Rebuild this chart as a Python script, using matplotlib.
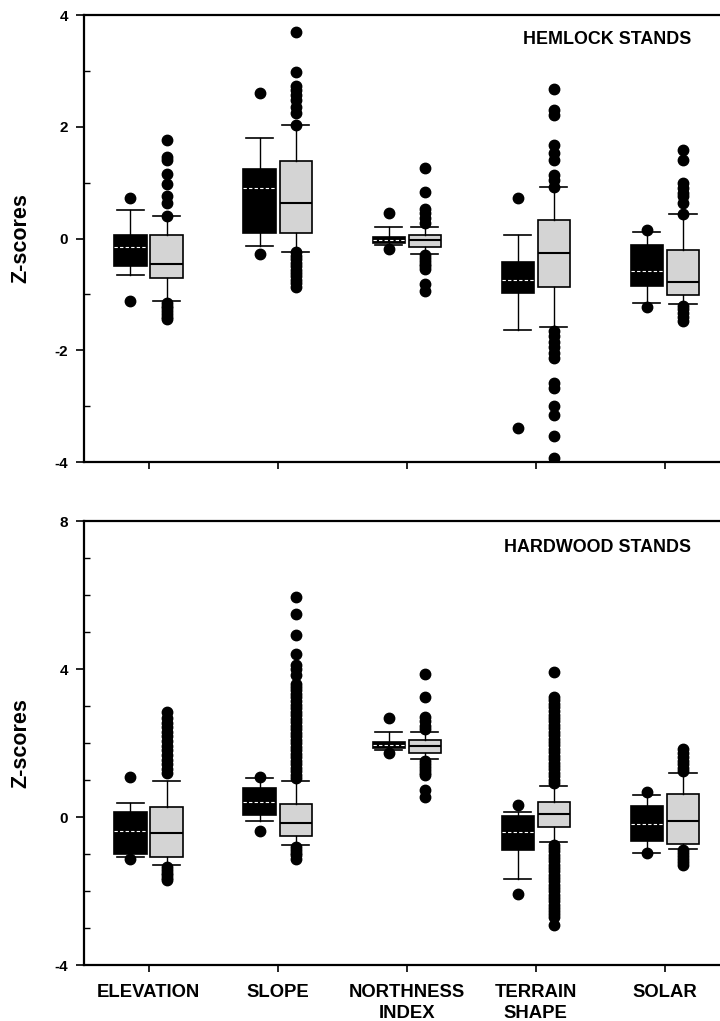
import matplotlib
matplotlib.use("Agg")
import matplotlib.pyplot as plt
from matplotlib.ticker import MultipleLocator

plt.rcParams['font.family'] = ['Liberation Sans', 'DejaVu Sans']
plt.rcParams['font.weight'] = 'bold'
plt.rcParams['axes.unicode_minus'] = False

categories = ["ELEVATION", "SLOPE", "NORTHNESS\nINDEX", "TERRAIN\nSHAPE", "SOLAR"]

# hemlock stands - dark boxes
hem_dark_q1 = [-0.49, 0.10, -0.08, -0.97, -0.85]
hem_dark_med = [-0.15, 0.90, -0.02, -0.74, -0.58]
hem_dark_q3 = [0.07, 1.25, 0.03, -0.42, -0.11]
hem_dark_whislo = [-0.66, -0.14, -0.12, -1.64, -1.16]
hem_dark_whishi = [0.51, 1.80, 0.20, 0.06, 0.12]
hem_dark_fliers = [[0.73, -1.11], [2.60, -0.27], [0.46, -0.18], [0.72, -3.40], [0.15, -1.22]]

# hemlock stands - light boxes
hem_light_q1 = [-0.71, 0.10, -0.15, -0.86, -1.02]
hem_light_med = [-0.45, 0.64, -0.03, -0.26, -0.78]
hem_light_q3 = [0.07, 1.39, 0.07, 0.33, -0.20]
hem_light_whislo = [-1.12, -0.24, -0.27, -1.58, -1.18]
hem_light_whishi = [0.40, 2.04, 0.21, 0.92, 0.43]
hem_light_fliers = [
    [1.77, 1.46, 1.41, 1.16, 0.98, 0.76, 0.63, 0.41,
     -1.15, -1.20, -1.25, -1.30, -1.35, -1.40, -1.44],
    [3.69, 2.98, 2.73, 2.66, 2.57, 2.48, 2.36, 2.24, 2.04,
     -0.25, -0.31, -0.37, -0.43, -0.50, -0.56, -0.62, -0.68, -0.74, -0.80, -0.87],
    [1.26, 0.84, 0.52, 0.46, 0.37, 0.28,
     -0.30, -0.35, -0.40, -0.45, -0.50, -0.55, -0.82, -0.94],
    [2.68, 2.30, 2.21, 1.68, 1.53, 1.41, 1.14, 1.05, 0.93,
     -1.65, -1.75, -1.85, -1.95, -2.05, -2.13, -2.58, -2.67, -2.99, -3.16, -3.53, -3.92],
    [1.59, 1.41, 0.99, 0.91, 0.82, 0.76, 0.64, 0.43,
     -1.20, -1.27, -1.34, -1.41, -1.48],
]

# hardwood stands - dark boxes
hw_dark_q1 = [-1.00, 0.05, 1.86, -0.90, -0.65]
hw_dark_med = [-0.38, 0.41, 1.95, -0.41, -0.19]
hw_dark_q3 = [0.14, 0.79, 2.04, 0.04, 0.30]
hw_dark_whislo = [-1.07, -0.10, 1.80, -1.67, -0.97]
hw_dark_whishi = [0.38, 1.05, 2.30, 0.13, 0.59]
hw_dark_fliers = [[1.09, -1.14], [1.07, -0.37], [2.68, 1.72], [0.33, -2.09], [0.68, -0.97]]

# hardwood stands - light boxes
hw_light_q1 = [-1.08, -0.50, 1.74, -0.27, -0.73]
hw_light_med = [-0.43, -0.16, 1.92, 0.07, -0.10]
hw_light_q3 = [0.26, 0.35, 2.07, 0.41, 0.62]
hw_light_whislo = [-1.31, -0.75, 1.57, -0.68, -0.86]
hw_light_whishi = [0.98, 0.98, 2.31, 0.85, 1.19]
hw_light_fliers = [
    [1.18, 1.30, 1.42, 1.55, 1.67, 1.80, 1.93, 2.05, 2.18, 2.30, 2.43, 2.55, 2.68, 2.83,
     -1.34, -1.42, -1.50, -1.58, -1.65, -1.71],
    [1.05, 1.14, 1.24, 1.33, 1.42, 1.52, 1.61, 1.71, 1.80, 1.90, 2.00, 2.09, 2.19, 2.28,
     2.38, 2.47, 2.57, 2.66, 2.76, 2.85, 2.95, 3.04, 3.14, 3.23, 3.33, 3.42, 3.52, 3.60,
     3.85, 4.00, 4.10, 4.41, 4.92, 5.48, 5.94,
     -0.80, -0.88, -0.96, -1.04, -1.13],
    [3.86, 3.25, 2.70, 2.60, 2.47, 2.38,
     1.52, 1.44, 1.36, 1.28, 1.20, 1.13, 0.73, 0.55],
    [0.92, 1.01, 1.10, 1.20, 1.29, 1.38, 1.47, 1.57, 1.66, 1.75, 1.85, 1.94, 2.03, 2.12,
     2.22, 2.31, 2.40, 2.50, 2.59, 2.68, 2.77, 2.87, 2.96, 3.05, 3.15, 3.25, 3.92,
     -0.75, -0.84, -0.93, -1.02, -1.11, -1.20, -1.29, -1.38, -1.47, -1.56, -1.65, -1.74,
     -1.83, -1.92, -2.01, -2.10, -2.19, -2.28, -2.37, -2.46, -2.55, -2.63, -2.70, -2.91],
    [1.24, 1.33, 1.42, 1.52, 1.62, 1.72, 1.83,
     -0.90, -0.98, -1.06, -1.14, -1.22, -1.29],
]


def make_stats(q1, med, q3, lo, hi, fliers):
    return [dict(q1=q1[i], med=med[i], q3=q3[i], whislo=lo[i], whishi=hi[i],
                 fliers=fliers[i]) for i in range(len(q1))]


def draw_panel(ax, dark, light, yticks, ylim):
    pos = list(range(1, len(categories) + 1))
    flier = dict(marker='o', markerfacecolor='black', markeredgecolor='black',
                 markersize=7.5, linestyle='none')
    ax.bxp(dark, positions=[p - 0.14 for p in pos], widths=0.25, capwidths=0.21,
           patch_artist=True, showfliers=True,
           boxprops=dict(facecolor='black', edgecolor='black', linewidth=1.2),
           medianprops=dict(color='white', linewidth=0.8, linestyle=(0, (3, 2))),
           whiskerprops=dict(color='black', linewidth=1.0),
           capprops=dict(color='black', linewidth=1.2),
           flierprops=flier, zorder=3)
    ax.bxp(light, positions=[p + 0.14 for p in pos], widths=0.25, capwidths=0.21,
           patch_artist=True, showfliers=True,
           boxprops=dict(facecolor='#d4d4d4', edgecolor='black', linewidth=1.2),
           medianprops=dict(color='black', linewidth=1.5),
           whiskerprops=dict(color='black', linewidth=1.0),
           capprops=dict(color='black', linewidth=1.2),
           flierprops=flier, zorder=3)
    ax.set_xlim(0.5, 5.5)
    ax.set_xticks(pos)
    ax.set_ylim(*ylim)
    ax.set_yticks(yticks)
    ax.set_yticklabels([str(v) for v in yticks], fontsize=11, fontweight='bold')
    ax.spines['right'].set_visible(False)
    for s in ['left', 'bottom', 'top']:
        ax.spines[s].set_linewidth(1.6)
    ax.tick_params(axis='y', which='major', direction='out', length=6, width=1.2, pad=5.5)
    ax.tick_params(axis='y', which='minor', direction='in', length=4, width=1)
    ax.tick_params(axis='x', which='major', direction='out', length=5, width=1.2)
    ax.yaxis.set_minor_locator(MultipleLocator(1))
    ax.set_ylabel("Z-scores", fontsize=15.5, fontweight='bold')
    ax.yaxis.set_label_coords(-0.082, 0.5)


fig = plt.figure(figsize=(7.2, 10.21), dpi=100)
ax1 = fig.add_axes([84 / 720, 559 / 1021, 645.5 / 720, 447 / 1021])
ax2 = fig.add_axes([84 / 720, 56 / 1021, 645.5 / 720, 444 / 1021])

draw_panel(ax1, make_stats(hem_dark_q1, hem_dark_med, hem_dark_q3, hem_dark_whislo,
                           hem_dark_whishi, hem_dark_fliers),
           make_stats(hem_light_q1, hem_light_med, hem_light_q3, hem_light_whislo,
                      hem_light_whishi, hem_light_fliers),
           [-4, -2, 0, 2, 4], (-4, 4))
ax1.set_xticklabels([])

draw_panel(ax2, make_stats(hw_dark_q1, hw_dark_med, hw_dark_q3, hw_dark_whislo,
                           hw_dark_whishi, hw_dark_fliers),
           make_stats(hw_light_q1, hw_light_med, hw_light_q3, hw_light_whislo,
                      hw_light_whishi, hw_light_fliers),
           [-4, 0, 4, 8], (-4, 8))
ax2.set_xticklabels(categories, fontsize=13.3, fontweight='bold', linespacing=1.25)
ax2.tick_params(axis='x', pad=9)

fig.text(691 / 720, 1 - 40 / 1021, "HEMLOCK STANDS", ha='right', va='center',
         fontsize=12.9, fontweight='bold')
fig.text(691 / 720, 1 - 547 / 1021, "HARDWOOD STANDS", ha='right', va='center',
         fontsize=12.9, fontweight='bold')

fig.savefig("out.png", dpi=100)
